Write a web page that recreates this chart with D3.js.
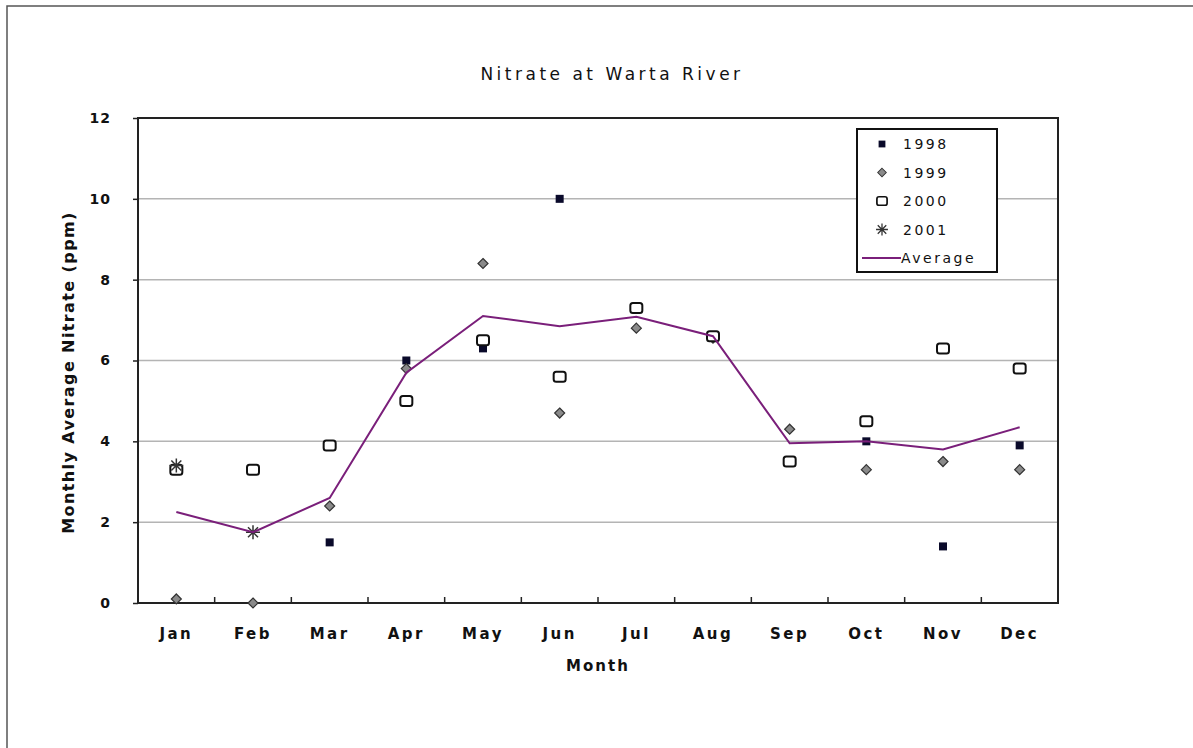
<!DOCTYPE html>
<html>
<head>
<meta charset="utf-8">
<script src="https://cdn.jsdelivr.net/npm/d3@7"></script>
<style>
  html, body { margin: 0; padding: 0; background: #fff; }
  svg { display: block; }
  text { font-family: "DejaVu Sans", Verdana, sans-serif; fill: #111; }
</style>
</head>
<body>
<svg width="1193" height="748"></svg>
<script>
(function () {
    'use strict';

    const months = ['Jan', 'Feb', 'Mar', 'Apr', 'May', 'Jun', 'Jul', 'Aug', 'Sep', 'Oct', 'Nov', 'Dec'];
    const yTicks = [0, 2, 4, 6, 8, 10, 12];

    const v1998 = [null, null, 1.5, 6.0, 6.3, 10.0, null, null, null, 4.0, 1.4, 3.9];
    const v1999 = [0.1, 0.0, 2.4, 5.8, 8.4, 4.7, 6.8, 6.55, 4.3, 3.3, 3.5, 3.3];
    const v2000 = [3.3, 3.3, 3.9, 5.0, 6.5, 5.6, 7.3, 6.6, 3.5, 4.5, 6.3, 5.8];
    const v2001 = [3.4, 1.75, null, null, null, null, null, null, null, null, null, null];
    const average = [2.25, 1.75, 2.6, 5.7, 7.1, 6.85, 7.08, 6.6, 3.95, 4.0, 3.8, 4.35];

    const width = 1193;
    const height = 748;
    const margin = ({ top: 118, right: 135, bottom: 145, left: 138 });
    const font = '"DejaVu Sans", Verdana, sans-serif';

    const svg = d3.select('svg').attr('viewBox', [0, 0, width, height]);

    // outer frame (right and bottom edges fall outside the picture)
    svg.append('path')
        .attr('d', `M7,${height} V6 H${width}`)
        .attr('fill', 'none')
        .attr('stroke', '#555')
        .attr('stroke-width', 1.5);

    const x = d3.scaleBand()
        .domain(months)
        .range([margin.left, width - margin.right]);

    const y = d3.scaleLinear()
        .domain([0, 12])
        .range([height - margin.bottom, margin.top]);

    // gridlines
    svg.append('g').selectAll('line')
        .data(yTicks.filter(t => t > 0 && t < 12))
        .join('line')
        .attr('x1', margin.left).attr('x2', width - margin.right)
        .attr('y1', d => y(d)).attr('y2', d => y(d))
        .attr('stroke', '#b4b4b4')
        .attr('stroke-width', 1.5);

    // plot border
    svg.append('rect')
        .attr('x', margin.left).attr('y', margin.top)
        .attr('width', width - margin.right - margin.left)
        .attr('height', height - margin.bottom - margin.top)
        .attr('fill', 'none')
        .attr('stroke', '#222')
        .attr('stroke-width', 2);

    // y axis labels + small ticks
    const yAxis = d3.axisLeft(y).tickValues(yTicks).tickSize(5).tickPadding(22);
    const gy = svg.append('g')
        .attr('transform', `translate(${margin.left},0)`)
        .call(yAxis);
    gy.select('.domain').remove();
    gy.selectAll('line').attr('stroke', '#222').attr('stroke-width', 1.5);
    gy.selectAll('text')
        .attr('font-size', 14)
        .attr('font-weight', 'bold')
        .attr('letter-spacing', 1)
        .style('font-family', font)
        .attr('fill', '#111');

    // x ticks between categories, pointing inward
    svg.append('g').selectAll('line')
        .data(months.slice(1))
        .join('line')
        .attr('x1', d => x(d)).attr('x2', d => x(d))
        .attr('y1', y(0)).attr('y2', y(0) - 6)
        .attr('stroke', '#222')
        .attr('stroke-width', 1.5);

    svg.append('g').selectAll('text')
        .data(months)
        .join('text')
        .attr('x', d => x(d) + x.bandwidth() / 2)
        .attr('y', y(0) + 36)
        .attr('text-anchor', 'middle')
        .attr('font-size', 15)
        .attr('font-weight', 'bold')
        .attr('letter-spacing', 2.5)
        .text(d => d);

    svg.append('text')
        .attr('x', (margin.left + width - margin.right) / 2)
        .attr('y', y(0) + 68)
        .attr('text-anchor', 'middle')
        .attr('font-size', 15)
        .attr('font-weight', 'bold')
        .attr('letter-spacing', 2)
        .text('Month');

    svg.append('text')
        .attr('transform', `translate(74,${(margin.top + height - margin.bottom) / 2 + 12}) rotate(-90)`)
        .attr('text-anchor', 'middle')
        .attr('font-size', 16)
        .attr('font-weight', 'bold')
        .attr('letter-spacing', 1.4)
        .text('Monthly Average Nitrate (ppm)');

    svg.append('text')
        .attr('x', 612)
        .attr('y', 80)
        .attr('text-anchor', 'middle')
        .attr('font-size', 17)
        .attr('letter-spacing', 3.5)
        .text('Nitrate at Warta River');

    // markers
    const cx = i => x(months[i]) + x.bandwidth() / 2;

    const marker = {
        '1998': g => g.append('rect')
            .attr('x', -4).attr('y', -4).attr('width', 8).attr('height', 8)
            .attr('fill', '#0a0a2a'),
        '1999': g => g.append('path')
            .attr('d', 'M0,-5 L5,0 L0,5 L-5,0 Z')
            .attr('fill', '#8a8a8a')
            .attr('stroke', '#333')
            .attr('stroke-width', 1.2),
        '2000': g => g.append('rect')
            .attr('x', -6).attr('y', -5).attr('width', 12).attr('height', 10)
            .attr('rx', 2.5)
            .attr('fill', '#fff')
            .attr('stroke', '#111')
            .attr('stroke-width', 2),
        '2001': g => g.append('path')
            .attr('d', 'M-7,0 H7 M0,-7 V7 M-5,-5 L5,5 M-5,5 L5,-5')
            .attr('stroke', '#333')
            .attr('stroke-width', 1.5)
    };

    const series = [
        { name: '1998', values: v1998 },
        { name: '1999', values: v1999 },
        { name: '2000', values: v2000 },
        { name: '2001', values: v2001 }
    ];

    series.forEach(s => {
        s.values.forEach((v, i) => {
            if (v === null) return;
            const g = svg.append('g').attr('transform', `translate(${cx(i)},${y(v)})`);
            marker[s.name](g);
        });
    });

    // average line
    const line = d3.line()
        .x((d, i) => cx(i))
        .y(d => y(d));
    svg.append('path')
        .attr('d', line(average))
        .attr('fill', 'none')
        .attr('stroke', '#7a1f7a')
        .attr('stroke-width', 2);

    // legend
    const legend = svg.append('g').attr('transform', 'translate(857,129)');
    legend.append('rect')
        .attr('width', 140).attr('height', 143)
        .attr('fill', '#fff')
        .attr('stroke', '#111')
        .attr('stroke-width', 2);

    const legendRows = ['1998', '1999', '2000', '2001', 'Average'];
    legendRows.forEach((name, i) => {
        const ly = 15 + i * 28.5;
        if (name === 'Average') {
            legend.append('line')
                .attr('x1', 5).attr('x2', 44).attr('y1', ly).attr('y2', ly)
                .attr('stroke', '#7a1f7a').attr('stroke-width', 2);
        } else {
            const g = legend.append('g').attr('transform', `translate(25,${ly}) scale(0.85)`);
            marker[name](g);
        }
        legend.append('text')
            .attr('x', name === 'Average' ? 44 : 46)
            .attr('y', ly + 5)
            .attr('font-size', 14)
            .attr('letter-spacing', 2.5)
            .text(name);
    });
})();
</script>
</body>
</html>
